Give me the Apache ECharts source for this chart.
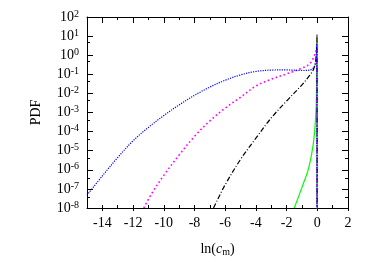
<!DOCTYPE html>
<html>
<head>
<meta charset="utf-8">
<script src="https://cdn.jsdelivr.net/npm/echarts@6/dist/echarts.min.js"></script>
<style>html,body{margin:0;padding:0;background:#fff}#c{width:374px;height:262px}</style>
</head>
<body>
<div id="c"></div>
<script>
// ---- data ----
const xMin = -15, xMax = 2;
const yMin = 1e-8, yMax = 1e2;
const xTickLabels = [-14, -12, -10, -8, -6, -4, -2, 0, 2];

const blueX = [-15.0, -14.0, -13.0, -12.0, -11.0, -10.0, -9.0, -8.0, -7.0, -6.0, -5.0, -4.0, -3.0, -2.0, -1.0, -0.5, -0.25, -0.12, -0.06, -0.035, -0.02];
const blueY = [4.7e-8, 4.8e-7, 4.4e-6, 3.3e-5, 1.66e-4, 6.9e-4, 2.5e-3, 7.9e-3, 2.14e-2, 4.9e-2, 9.3e-2, 0.141, 0.166, 0.17, 0.158, 0.165, 0.22, 0.35, 1.0, 4.0, 1e-9];

const magentaX = [-11.3, -10.78, -10.0, -9.0, -8.0, -7.0, -6.0, -5.0, -4.0, -3.0, -2.0, -1.0, -0.5, -0.24, -0.1, -0.04, -0.025];
const magentaY = [1e-8, 5.8e-8, 5.1e-7, 5.9e-6, 5.6e-5, 3.6e-4, 1.7e-3, 6.3e-3, 2.45e-2, 5.5e-2, 0.105, 0.21, 0.35, 0.76, 1.6, 2.8, 1e-9];

const blackX = [-6.76, -6.5, -6.0, -5.0, -4.0, -3.0, -2.0, -1.0, -0.5, -0.25, -0.1, -0.04, -0.02, -0.01];
const blackY = [1e-8, 2.7e-8, 1.66e-7, 3.5e-6, 4.5e-5, 5.2e-4, 4.0e-3, 2.8e-2, 8.9e-2, 0.18, 0.56, 2.5, 12, 1e-9];

const greenX = [-1.5, -1.0, -0.56, -0.24, -0.08, -0.04, -0.02, -0.015];
const greenY = [1e-8, 1.2e-7, 1.26e-6, 3.0e-5, 1.6e-3, 0.1, 5, 1e-9];

// ---- chart ----
const serif = 'Liberation Serif';
const zip = (xs, ys) => xs.map((x, i) => [x, ys[i]]);
const frame = {show: true, onZero: false, lineStyle: {color: '#000', width: 1}};
const noLine = {show: false, onZero: false};

const chart = echarts.init(document.getElementById('c'), null, {renderer: 'canvas'});
const L = 87, R = 26, T = 17, B = 51;
const H = 262 - T - B;
const perDec = H / 10;
const minorTop = T + (Math.log10(yMax) - Math.log10(5e0)) * perDec;
const minorBot = 262 - (T + (Math.log10(yMax) - Math.log10(5e-8)) * perDec);
const perUnit = (374 - L - R) / (xMax - xMin);

chart.setOption({
  animation: false,
  grid: [
    {left: L, right: R, top: T, bottom: B},
    {left: L + perUnit * (xTickLabels[0] - xMin), right: R, top: T, bottom: B},
    {left: L, right: R, top: minorTop, bottom: minorBot}
  ],
  xAxis: [
    {gridIndex: 0, type: 'value', position: 'bottom', min: xMin, max: xMax, interval: 1,
     axisLine: frame, splitLine: {show: false},
     axisTick: {inside: true, length: 3, lineStyle: {color: '#000'}},
     axisLabel: {margin: 8, fontFamily: serif, fontSize: 14, color: '#000',
       formatter: v => (Math.round(v) % 2 === 0 ? String(Math.round(v)) : '')},
     name: '{n|ln(}{i|c}{s|m}{n|)}', nameLocation: 'middle', nameGap: 33,
     nameTextStyle: {rich: {
       n: {fontFamily: serif, fontSize: 14, color: '#000'},
       i: {fontFamily: serif, fontSize: 14, fontStyle: 'italic', color: '#000'},
       s: {fontFamily: serif, fontSize: 10, color: '#000', verticalAlign: 'bottom', padding: [6, 0, 0, 0]}
     }}},
    {gridIndex: 0, type: 'value', position: 'top', min: xMin, max: xMax, interval: 1,
     axisLine: frame, splitLine: {show: false},
     axisTick: {inside: true, length: 3, lineStyle: {color: '#000'}},
     axisLabel: {show: false}},
    {gridIndex: 1, type: 'value', position: 'bottom', min: xTickLabels[0], max: xMax, interval: 2,
     axisLine: noLine, splitLine: {show: false},
     axisTick: {inside: true, length: 6, lineStyle: {color: '#000'}}, axisLabel: {show: false}},
    {gridIndex: 1, type: 'value', position: 'top', min: xTickLabels[0], max: xMax, interval: 2,
     axisLine: noLine, splitLine: {show: false},
     axisTick: {inside: true, length: 6, lineStyle: {color: '#000'}}, axisLabel: {show: false}},
    {gridIndex: 2, type: 'value', show: false, min: 0, max: 1}
  ],
  yAxis: [
    {gridIndex: 0, type: 'log', logBase: 10, position: 'left', min: yMin, max: yMax, interval: 1,
     axisLine: frame, splitLine: {show: false},
     axisTick: {inside: true, length: 6, lineStyle: {color: '#000'}},
     axisLabel: {margin: 8, color: '#000',
       formatter: v => '{b|10}{s|' + Math.round(Math.log10(v)) + '}',
       rich: {
         b: {fontFamily: serif, fontSize: 14, color: '#000', lineHeight: 16},
         s: {fontFamily: serif, fontSize: 10, color: '#000', verticalAlign: 'top', lineHeight: 10}
       }},
     name: 'PDF', nameLocation: 'middle', nameGap: 44, nameRotate: 90,
     nameTextStyle: {fontFamily: serif, fontSize: 14, color: '#000'}},
    {gridIndex: 0, type: 'log', logBase: 10, position: 'right', min: yMin, max: yMax, interval: 1,
     axisLine: frame, splitLine: {show: false},
     axisTick: {inside: true, length: 6, lineStyle: {color: '#000'}}, axisLabel: {show: false}},
    {gridIndex: 1, type: 'value', show: false, min: 0, max: 1},
    {gridIndex: 2, type: 'value', position: 'left', min: 0, max: 8, interval: 1,
     axisLine: noLine, splitLine: {show: false},
     axisTick: {inside: true, length: 3, lineStyle: {color: '#000'}}, axisLabel: {show: false}},
    {gridIndex: 2, type: 'value', position: 'right', min: 0, max: 8, interval: 1,
     axisLine: noLine, splitLine: {show: false},
     axisTick: {inside: true, length: 3, lineStyle: {color: '#000'}}, axisLabel: {show: false}}
  ],
  series: [
    {type: 'line', xAxisIndex: 0, yAxisIndex: 0, data: zip(greenX, greenY), symbol: 'none',
     smooth: 0.35, clip: true,
     lineStyle: {color: '#00ff00', width: 1.2, type: 'solid'}},
    {type: 'line', xAxisIndex: 0, yAxisIndex: 0, data: zip(blackX, blackY), symbol: 'none',
     smooth: 0.35, clip: true,
     lineStyle: {color: '#000', width: 1.2, type: [5, 2, 1, 2]}},
    {type: 'line', xAxisIndex: 0, yAxisIndex: 0, data: zip(magentaX, magentaY), symbol: 'none',
     smooth: 0.35, clip: true,
     lineStyle: {color: '#ff00ff', width: 1.6, type: [1.6, 2.6]}},
    {type: 'line', xAxisIndex: 0, yAxisIndex: 0, data: zip(blueX, blueY), symbol: 'none',
     smooth: 0.35, clip: true,
     lineStyle: {color: '#0000ff', width: 1.2, type: [1.2, 1.2]}}
  ]
});
</script>
</body>
</html>
